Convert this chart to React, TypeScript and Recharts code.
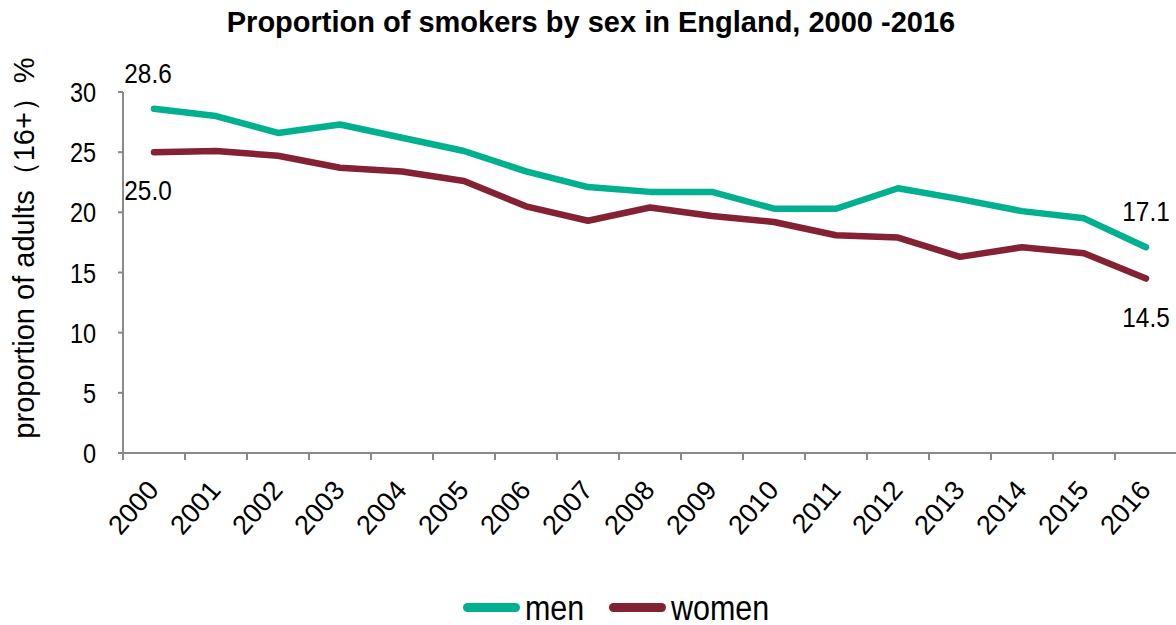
import { LineChart, Line, XAxis, YAxis, Legend, LabelList } from 'recharts'

const years = ['2000', '2001', '2002', '2003', '2004', '2005', '2006', '2007', '2008', '2009', '2010', '2011', '2012', '2013', '2014', '2015', '2016']
const menValues = [28.6, 28.0, 26.6, 27.3, 26.2, 25.1, 23.4, 22.1, 21.7, 21.7, 20.3, 20.3, 22.0, 21.1, 20.1, 19.5, 17.1]
const womenValues = [25.0, 25.1, 24.7, 23.7, 23.4, 22.6, 20.5, 19.3, 20.4, 19.7, 19.2, 18.1, 17.9, 16.3, 17.1, 16.6, 14.5]
const yTicks = [0, 5, 10, 15, 20, 25, 30]

const MEN_COLOR = '#00B08F'
const WOMEN_COLOR = '#842233'
const AXIS_COLOR = '#8a8a8a'
const FONT = '"Liberation Sans", Arial, sans-serif'

const data = years.map((year, i) => ({ year, men: menValues[i], women: womenValues[i] }))

function YearTick(props: any) {
  const { x, y, payload, index } = props
  const half = payload.offset || 31
  const isLast = index === years.length - 1
  const tx = x + 6
  const ty = y + 38
  return (
    <g>
      <line x1={x - half} x2={x - half} y1={y} y2={y + 7} stroke={AXIS_COLOR} strokeWidth={2} />
      {isLast && <line x1={x + half} x2={x + half} y1={y} y2={y + 7} stroke={AXIS_COLOR} strokeWidth={2} />}
      <text x={tx} y={ty} transform={`rotate(-49, ${tx}, ${ty})`} textAnchor="end" fontSize={27} fill="#000">
        {payload.value}
      </text>
    </g>
  )
}

function ValueTick(props: any) {
  const { x, y, payload } = props
  return (
    <g transform={`translate(${x},${y}) scale(0.87,1)`}>
      <text x={0} y={10} textAnchor="end" fontSize={27} fill="#000">
        {payload.value}
      </text>
    </g>
  )
}

// only the first and last points carry a value label
const endLabel = (above: boolean) => (props: any) => {
  const { x, y, value, index } = props
  if (index !== 0 && index !== years.length - 1) return null
  const dx = index === 0 ? -6 : 0
  const ty = above ? y - 26 : y + 48
  return (
    <g transform={`translate(${x + dx},${ty}) scale(0.87,1)`}>
      <text x={0} y={0} textAnchor="middle" fontSize={28} fill="#000">
        {Number(value).toFixed(1)}
      </text>
    </g>
  )
}

function LegendContent(props: any) {
  const items = props.payload || []
  return (
    <div
      style={{
        display: 'flex',
        alignItems: 'center',
        height: 50,
        paddingLeft: 463,
        paddingTop: 14,
        boxSizing: 'border-box',
      }}
    >
      {items.map((item: any) => (
        <div key={item.value} style={{ display: 'flex', alignItems: 'center', marginRight: 16 }}>
          <div style={{ width: 57, height: 9, borderRadius: 5, background: item.color }} />
          <span
            style={{
              fontSize: 35,
              lineHeight: 1,
              marginLeft: 5,
              display: 'inline-block',
              transform: 'scaleX(0.87)',
              transformOrigin: 'left center',
              color: '#000',
            }}
          >
            {item.value}
          </span>
        </div>
      ))}
    </div>
  )
}

export default function App() {
  return (
    <div
      style={{
        position: 'absolute',
        left: 0,
        top: 0,
        width: 1176,
        height: 625,
        overflow: 'hidden',
        background: '#fff',
        fontFamily: FONT,
      }}
    >
      <LineChart width={1180} height={625} data={data} margin={{ top: 92, right: 3, bottom: 0, left: 0 }}>
        <text x={591} y={32} textAnchor="middle" fontSize={29} fontWeight="bold" fill="#000">
          Proportion of smokers by sex in England, 2000 -2016
        </text>
        <text
          x={34}
          y={248}
          transform="rotate(-90, 34, 248)"
          textAnchor="middle"
          fontSize={29}
          fill="#000"
        >
          proportion of adults（16+）%
        </text>
        <XAxis
          dataKey="year"
          scale="band"
          height={122}
          tickLine={false}
          tickSize={0}
          tickMargin={0}
          axisLine={{ stroke: AXIS_COLOR, strokeWidth: 2 }}
          tick={<YearTick />}
          interval={0}
        />
        <YAxis
          domain={[0, 30]}
          ticks={yTicks}
          width={123}
          tickSize={5}
          tickMargin={22}
          tickLine={{ stroke: AXIS_COLOR, strokeWidth: 2 }}
          axisLine={{ stroke: AXIS_COLOR, strokeWidth: 2 }}
          tick={<ValueTick />}
        />
        <Legend verticalAlign="bottom" content={<LegendContent />} wrapperStyle={{ height: 50 }} />
        <Line
          type="linear"
          dataKey="men"
          name="men"
          stroke={MEN_COLOR}
          strokeWidth={6.5}
          strokeLinecap="round"
          strokeLinejoin="round"
          dot={false}
          activeDot={false}
          isAnimationActive={false}
        >
          <LabelList dataKey="men" content={endLabel(true)} />
        </Line>
        <Line
          type="linear"
          dataKey="women"
          name="women"
          stroke={WOMEN_COLOR}
          strokeWidth={6.5}
          strokeLinecap="round"
          strokeLinejoin="round"
          dot={false}
          activeDot={false}
          isAnimationActive={false}
        >
          <LabelList dataKey="women" content={endLabel(false)} />
        </Line>
      </LineChart>
    </div>
  )
}
